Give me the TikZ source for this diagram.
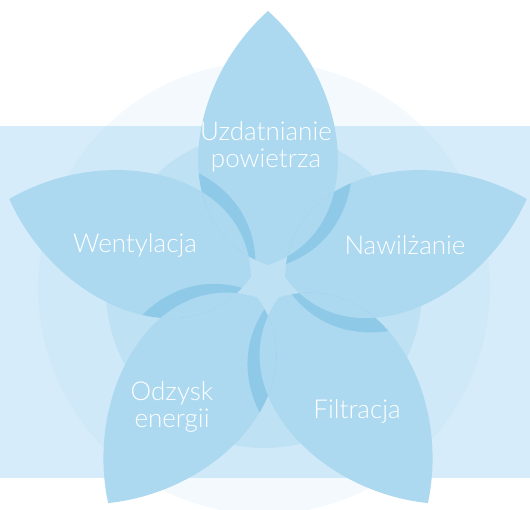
\documentclass[tikz,border=0pt]{standalone}
\usepackage{fontspec}
\setmainfont{Lato}[UprightFont={* Light}]
\definecolor{bandblue}{HTML}{D6ECFA}
\definecolor{ringblue}{HTML}{AED9F0}
\definecolor{innerblue}{HTML}{BFE1F4}
\definecolor{petalblue}{HTML}{ACD9F0}
\definecolor{shadeblue}{HTML}{8ECAE8}

% one petal, pointing up from the centre of the flower
\newcommand{\petalpath}{(0,18) .. controls (100,52) and (86,195) .. (0,272)
  .. controls (-86,195) and (-100,52) .. (0,18) -- cycle}

% petal #1 lies over its clockwise neighbour #2 and shades it
\newcommand{\petalover}[2]{%
  \begin{scope}
    \clip[shift={(center)}, rotate=#2] \petalpath;
    \fill[petalshade, shift={(center)}, rotate=#1, xshift=15pt] \petalpath;
    \fill[petalfill, shift={(center)}, rotate=#1] \petalpath;
  \end{scope}}

\tikzset{
  petalfill/.style={fill=petalblue},
  petalshade/.style={fill=shadeblue},
  label/.style={text=white, align=center, font=\fontsize{26}{27}\selectfont}
}

\begin{document}
\begin{tikzpicture}[x=1pt, y=1pt]
\useasboundingbox (0,0) rectangle (530,509);
\coordinate (center) at (268,226);

% Background
\fill[bandblue] (0,31) rectangle (530,383);
\fill[ringblue, fill opacity=0.15] (264,221) circle (226);
\fill[innerblue] (264,219) circle (158);

% Petals
\fill[petalfill, shift={(center)}, rotate=0] \petalpath;
\fill[petalfill, shift={(center)}, rotate=-72] \petalpath;
\fill[petalfill, shift={(center)}, rotate=-144] \petalpath;
\fill[petalfill, shift={(center)}, rotate=144] \petalpath;
\fill[petalfill, shift={(center)}, rotate=72] \petalpath;

% Overlaps
\petalover{0}{-72}
\petalover{-72}{-144}
\petalover{-144}{144}
\petalover{144}{72}
\petalover{72}{0}

% Labels
\node[label] (uzd) at (266,362) {Uzdatnianie\\powietrza};
\node[label] (naw) at (405,264) {Nawilżanie};
\node[label] (filt) at (357,98) {Filtracja};
\node[label] (odz) at (172,102) {Odzysk\\energii};
\node[label] (went) at (135,264) {Wentylacja};
\end{tikzpicture}
\end{document}
